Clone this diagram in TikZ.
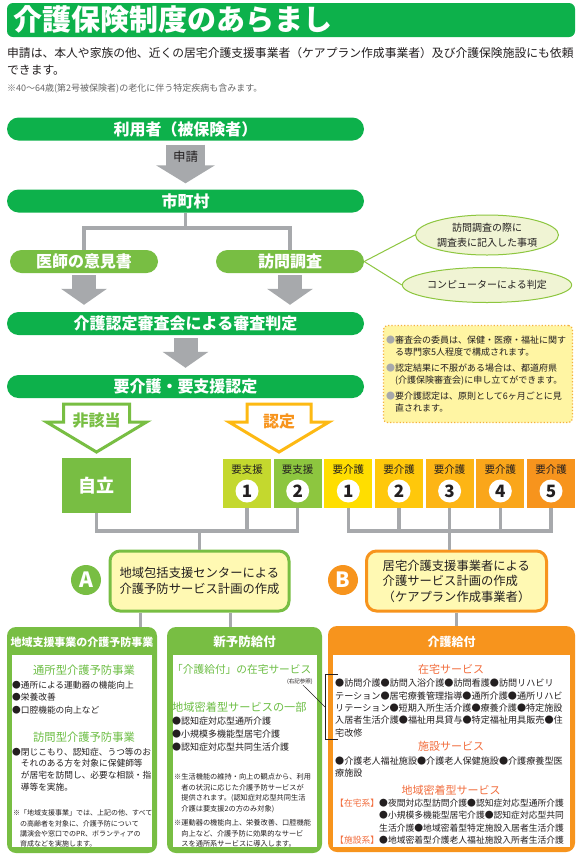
\documentclass[tikz,border=0pt]{standalone}
\usepackage{fontspec}
\setmainfont{Noto Sans CJK JP}
\usetikzlibrary{arrows.meta,shapes.geometric}
\definecolor{dkgreen}{HTML}{0DB14B}
\definecolor{ltgreen}{HTML}{78BE43}
\definecolor{hdgreen}{HTML}{6DBE45}
\definecolor{arrowgray}{HTML}{A7A9AC}
\definecolor{careorange}{HTML}{F7941D}
\definecolor{svcorange}{HTML}{F26D3D}
\definecolor{ninteiyellow}{HTML}{FDB913}
\definecolor{notefill}{HTML}{FFF5A3}
\definecolor{noteedge}{HTML}{F6B03C}
\definecolor{planfill}{HTML}{FFF9B3}
\definecolor{ellfill}{HTML}{F0F4D4}
\definecolor{elledge}{HTML}{8DC63F}
\definecolor{inkdark}{HTML}{231F20}
\definecolor{lvsA}{HTML}{C4D82E}
\definecolor{lvsB}{HTML}{8DC63F}
\definecolor{lvcA}{HTML}{FFDE00}
\definecolor{lvcB}{HTML}{FFC80B}
\definecolor{lvcC}{HTML}{FDB515}
\definecolor{lvcD}{HTML}{FAA61A}
\definecolor{lvcE}{HTML}{F7941D}
\newcommand\fsz[2]{\fontsize{#1}{#2}\selectfont}
\tikzset{
  mainbar/.style={fill=dkgreen, text=white, rounded corners=11.5pt, minimum width=357pt,
    minimum height=23pt, inner sep=0pt, font=\bfseries\fsz{16}{18}},
  subbar/.style={mainbar, fill=ltgreen, minimum width=148pt},
  blockarrow/.style={draw=arrowgray, line width=#1},
  treeline/.style={draw=arrowgray, line width=3.5pt},
  hollowarrow/.style={draw=#1, fill=white, line width=3pt, line join=miter},
  infoell/.style={ellipse, draw=elledge, fill=ellfill, line width=1pt, inner sep=0pt,
    text=inkdark, align=center, font=\fsz{10}{14.5}},
  levelbox/.style={fill=#1, minimum width=48pt, minimum height=49pt, inner sep=0pt},
  levellabel/.style={text=inkdark, inner sep=0pt, font=\fsz{10.5}{11}},
  numcircle/.style={circle, fill=white, minimum size=23pt, inner sep=0pt, text=inkdark,
    font=\bfseries\fsz{17}{17}},
  badge/.style={circle, fill=#1, text=white, minimum size=30pt, inner sep=0pt,
    font=\bfseries\fsz{21}{21}},
  planbox/.style={draw=#1, fill=planfill, line width=3pt, rounded corners=10pt,
    minimum width=179pt, minimum height=60pt, inner sep=0pt, align=left, text=inkdark,
    font=\fsz{12.3}{15.5}},
  colframe/.style={fill=#1, rounded corners=9pt, inner sep=0pt},
  colbody/.style={fill=white, inner sep=0pt},
  colhead/.style={text=white, inner sep=0pt, font=\bfseries\fsz{11}{12}},
  greenhead/.style={text=hdgreen, inner sep=0pt},
  orangehead/.style={text=svcorange, inner sep=0pt, font=\fsz{11}{12}},
  bodytext/.style={text=inkdark, inner sep=0pt, align=left, anchor=west}
}
\begin{document}
\begin{tikzpicture}[x=1pt,y=-1pt]
\useasboundingbox[fill=white] (0,0) rectangle (581,863);
\node[fill=dkgreen, rounded corners=6pt, minimum width=568pt, minimum height=34pt] (titlebar) at (291,20) {};
\node[anchor=west, text=white, inner sep=0pt, font=\bfseries\fsz{29}{30}] (title) at (13,20) {介護保険制度のあらまし};
\node[bodytext, font=\fsz{11.8}{17}] (intro) at (7,61.5) {申請は、本人や家族の他、近くの居宅介護支援事業者（ケアプラン作成事業者）及び介護保険施設にも依頼\\できます。};
\node[bodytext, text=black!60, font=\fsz{9}{10}] (introNote) at (7,89) {※40～64歳(第2号被保険者)の老化に伴う特定疾病も含みます。};

\node[mainbar] (user) at (185.5,129) {利用者（被保険者）};
\node[mainbar] (city) at (185.5,201) {市町村};
\node[subbar] (ishi) at (84,261.5) {医師の意見書};
\node[subbar] (houmon) at (290,261.5) {訪問調査};
\node[mainbar] (judge) at (185.5,323.5) {介護認定審査会による審査判定};
\node[mainbar] (nintei) at (185.5,386.5) {要介護・要支援認定};
\node[infoell, minimum width=143pt, minimum height=40pt] (chosaItem) at (487,235) {訪問調査の際に\\調査表に記入した事項};
\node[infoell, minimum width=143pt, minimum height=35pt] (computer) at (487,285) {コンピューターによる判定};

\begin{scope}[blockarrow=39pt]
  \draw[shorten <=4pt, shorten >=6pt, -{Triangle[length=18pt,width=58pt]}] (user.south) -- (city.north);
\end{scope}
\node[text=inkdark, inner sep=0pt, font=\fsz{12.5}{13}] (shinsei) at (185.5,157) {申請};
\begin{scope}[blockarrow=24pt, -{Triangle[length=16pt,width=45pt]}]
  \draw[shorten <=2pt, shorten >=7pt] (ishi.south) -- (ishi.south |- judge.north);
  \draw[shorten <=2pt, shorten >=7pt] (houmon.south) -- (houmon.south |- judge.north);
  \draw[shorten <=3pt, shorten >=7pt] (judge.south) -- (nintei.north);
\end{scope}
\coordinate (jT) at (185.5,228);
\begin{scope}[treeline]
  \draw (city.south) -- (jT);
  \draw (jT) -| (ishi.north);
  \draw (jT) -| (houmon.north);
\end{scope}
\begin{scope}[draw=elledge, line width=1pt]
  \draw (houmon.east) -- (chosaItem.west);
  \draw (houmon.east) -- (computer.west);
\end{scope}

\node[fill=notefill, draw=noteedge, line width=1.2pt, dotted, rounded corners=4pt, minimum width=189pt, minimum height=97pt] (reviewbox) at (478,374) {};
\node[bodytext, font=\fsz{9}{12}] (reviewtext) at (386,374) {\textcolor{arrowgray}{●}審査会の委員は、保健・医療・福祉に関す\\\phantom{●}る専門家5人程度で構成されます。\\[4pt]\textcolor{arrowgray}{●}認定結果に不服がある場合は、都道府県\\\phantom{●}(介護保険審査会)に申し立てができます。\\[4pt]\textcolor{arrowgray}{●}要介護認定は、原則として6ヶ月ごとに見\\\phantom{●}直されます。};

\draw[hollowarrow=ltgreen] (63.5,404) -- (129.5,404) -- (129.5,422) -- (146.5,422) -- (96.5,452) -- (46.5,422) -- (63.5,422) -- cycle;
\draw[hollowarrow=ninteiyellow] (247,404) -- (311,404) -- (311,422) -- (329,422) -- (279,452) -- (229,422) -- (247,422) -- cycle;
\node[text=ltgreen, inner sep=0pt, font=\bfseries\fsz{16}{16}] (higaito) at (96.5,421) {非該当};
\node[text=careorange, inner sep=0pt, font=\bfseries\fsz{16}{16}] (ninteiLbl) at (279,421) {認定};

\node[fill=ltgreen, minimum width=69pt, minimum height=55pt, text=white, font=\bfseries\fsz{18}{18}] (jiritsu) at (96.5,485.5) {自立};
\node[levelbox=lvsA] (lvs1) at (247,483.5) {};
\node[levelbox=lvsB] (lvs2) at (297.7,483.5) {};
\node[levelbox=lvcA] (lvc1) at (348.3,483.5) {};
\node[levelbox=lvcB] (lvc2) at (399,483.5) {};
\node[levelbox=lvcC] (lvc3) at (449.6,483.5) {};
\node[levelbox=lvcD] (lvc4) at (500.3,483.5) {};
\node[levelbox=lvcE] (lvc5) at (551,483.5) {};
\node[levellabel] (lvs1lbl) at (247,470) {要支援};
\node[levellabel] (lvs2lbl) at (297.7,470) {要支援};
\node[levellabel] (lvc1lbl) at (348.3,470) {要介護};
\node[levellabel] (lvc2lbl) at (399,470) {要介護};
\node[levellabel] (lvc3lbl) at (449.6,470) {要介護};
\node[levellabel] (lvc4lbl) at (500.3,470) {要介護};
\node[levellabel] (lvc5lbl) at (551,470) {要介護};
\node[numcircle] (lvs1num) at (247,491) {1};
\node[numcircle] (lvs2num) at (297.7,491) {2};
\node[numcircle] (lvc1num) at (348.3,491) {1};
\node[numcircle] (lvc2num) at (399,491) {2};
\node[numcircle] (lvc3num) at (449.6,491) {3};
\node[numcircle] (lvc4num) at (500.3,491) {4};
\node[numcircle] (lvc5num) at (551,491) {5};

\node[badge=ltgreen] (badgeA) at (86,580) {A};
\node[planbox=ltgreen] (planA) at (199.5,581) {地域包括支援センターによる\\介護予防サービス計画の作成};
\node[badge=careorange] (badgeB) at (343,580) {B};
\node[planbox=careorange, minimum width=180pt] (planB) at (456.5,581) {居宅介護支援事業者による\\介護サービス計画の作成\\（ケアプラン作成事業者）};

\coordinate (jA) at (199.5,531);
\coordinate (jB) at (449.6,531);
\begin{scope}[treeline]
  \draw (jiritsu.south) |- (jA);
  \draw (lvs2.south) |- (jA);
  \draw (lvs1.south) -- (lvs1.south |- jA);
  \draw (jA) -- (planA.north);
  \draw (lvc1.south) |- (jB);
  \draw (lvc5.south) |- (jB);
  \draw (lvc2.south) -- (lvc2.south |- jB);
  \draw (lvc3.south) -- (jB);
  \draw (lvc4.south) -- (lvc4.south |- jB);
  \draw (jB) -- (jB |- planB.north);
\end{scope}

\node[colframe=ltgreen, minimum width=150pt, minimum height=226pt] (yoboCol) at (82,740) {};
\node[colbody, minimum width=140pt, minimum height=192pt] (yoboBody) at (82,751) {};
\node[colframe=ltgreen, minimum width=155pt, minimum height=226pt] (shinCol) at (244.5,740) {};
\node[colbody, minimum width=144pt, minimum height=192pt] (shinBody) at (245,751) {};
\node[colframe=careorange, minimum width=247pt, minimum height=226pt] (kyufuCol) at (451.5,739) {};
\node[colbody, minimum width=237pt, minimum height=192pt] (kyufuBody) at (451.5,750.5) {};
\begin{scope}[treeline]
  \draw ([xshift=-59pt]planA.south) -- ([xshift=-59pt]planA.south |- yoboCol.north);
  \draw ([xshift=31pt]planA.south) -- ([xshift=31pt]planA.south |- shinCol.north);
  \draw (planB.south) -- (planB.south |- kyufuCol.north);
\end{scope}
\node[colhead] (yoboHead) at (82,642) {地域支援事業の介護予防事業};
\node[colhead, font=\bfseries\fsz{12.5}{13}] (shinHead) at (244.5,642) {新予防給付};
\node[colhead, font=\bfseries\fsz{12}{13}] (kyufuHead) at (451.5,642) {介護給付};

\node[greenhead, font=\fsz{11.3}{12}] (tsusho) at (84,670) {通所型介護予防事業};
\node[bodytext, font=\fsz{8.7}{12.3}] (tsushoList) at (12,697.5) {●通所による運動器の機能向上\\●栄養改善\\●口腔機能の向上など};
\node[greenhead, font=\fsz{11.3}{12}] (homonGata) at (84,737) {訪問型介護予防事業};
\node[bodytext, font=\fsz{8.7}{11.7}] (homonList) at (12,769.5) {●閉じこもり、認知症、うつ等のお\\\phantom{●}それのある方を対象に保健師等\\\phantom{●}が居宅を訪問し、必要な相談・指\\\phantom{●}導等を実施。};
\node[bodytext, font=\fsz{7}{10.3}] (yoboNote) at (13,828.5) {※「地域支援事業」では、上記の他、すべて\\\phantom{※}の高齢者を対象に、介護予防について\\\phantom{※}講演会や窓口でのPR、ボランティアの\\\phantom{※}育成などを実施します。};

\node[greenhead, anchor=west, font=\fsz{10.7}{12}] (zaitakuRef) at (172,669) {「介護給付」の在宅サービス};
\node[anchor=east, text=inkdark, inner sep=0pt, font=\fsz{5.5}{6}] (refnote) at (313,682) {(右記参照)};
\node[greenhead, anchor=west, font=\fsz{11.2}{12}] (mitchaku) at (172,707) {地域密着型サービスの一部};
\node[bodytext, font=\fsz{9}{13}] (mitchakuList) at (172,734) {●認知症対応型通所介護\\●小規模多機能型居宅介護\\●認知症対応型共同生活介護};
\node[bodytext, font=\fsz{7.2}{10.6}] (shinNoteA) at (174,793) {※生活機能の維持・向上の観点から、利用\\\phantom{※}者の状況に応じた介護予防サービスが\\\phantom{※}提供されます。(認知症対応型共同生活\\\phantom{※}介護は要支援2の方のみ対象)};
\node[bodytext, font=\fsz{7.2}{10.6}] (shinNoteB) at (174,833.5) {※運動器の機能向上、栄養改善、口腔機能\\\phantom{※}向上など、介護予防に効果的なサービ\\\phantom{※}スを通所系サービスに導入します。};

\node[orangehead] (zaitaku) at (451,669) {在宅サービス};
\node[bodytext, font=\fsz{9.1}{12.4}] (zaitakuList) at (335,708) {●訪問介護●訪問入浴介護●訪問看護●訪問リハビリ\\テーション●居宅療養管理指導●通所介護●通所リハビ\\リテーション●短期入所生活介護●療養介護●特定施設\\入居者生活介護●福祉用具貸与●特定福祉用具販売●住\\宅改修};
\node[orangehead] (shisetsu) at (451,746) {施設サービス};
\node[bodytext, font=\fsz{9.1}{12.4}] (shisetsuList) at (335,767) {●介護老人福祉施設●介護老人保健施設●介護療養型医\\療施設};
\node[orangehead] (chiiki) at (451,790) {地域密着型サービス};
\node[bodytext, font=\fsz{8.8}{12.3}] (chiikiList) at (335,821.5) {\textcolor{svcorange}{【在宅系】}●夜間対応型訪問介護●認知症対応型通所介護\\\phantom{【在宅系】}●小規模多機能型居宅介護●認知症対応型共同\\\phantom{【在宅系】}生活介護●地域密着型特定施設入居者生活介護\\\textcolor{svcorange}{【施設系】}●地域密着型介護老人福祉施設入所者生活介護};

\draw[inkdark, line width=0.6pt] (338,674) -- (325,674) -- (325,739) -- (338,739);
\coordinate (brk) at (325,707);
\draw[inkdark, line width=0.5pt] ([xshift=3pt]refnote.south) -- (brk);
\end{tikzpicture}
\end{document}
